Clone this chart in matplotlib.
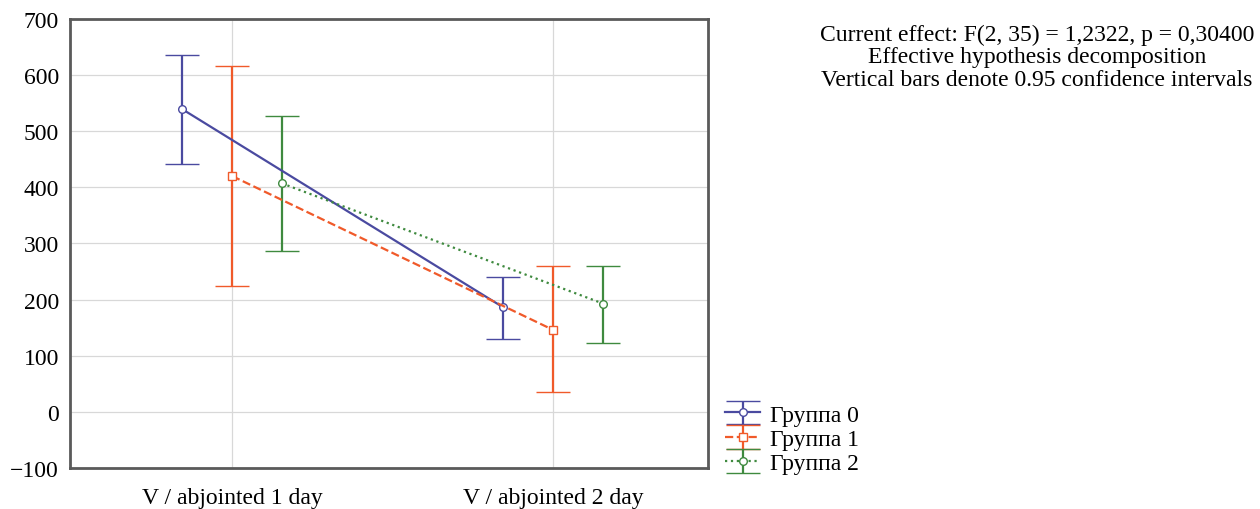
import numpy as np
import matplotlib.pyplot as plt

plt.rcParams['font.family'] = ['Liberation Serif', 'DejaVu Serif']
fontsize = 17

categories = ["V / abjointed 1 day", "V / abjointed 2 day"]
groups = ["Группа 0", "Группа 1", "Группа 2"]

means = [[539, 186],
         [420, 146],
         [407, 193]]
ci_low = [[441, 130],
          [225, 36],
          [286, 123]]
ci_high = [[636, 241],
           [616, 259],
           [527, 259]]

colors = ['#4a4aa0', '#f05a2a', '#3f8a3f']
linestyles = ['-', '--', ':']
markers = ['o', 's', 'o']
offsets = [-0.155, 0.0, 0.155]

fig = plt.figure(figsize=(12.6, 5.1), dpi=100)
ax = fig.add_axes([0.0556, 0.0804, 0.5064, 0.8806])

x = np.arange(len(categories))
for i in range(len(groups)):
    m = np.array(means[i])
    lo = m - np.array(ci_low[i])
    hi = np.array(ci_high[i]) - m
    ax.errorbar(x + offsets[i], m, yerr=[lo, hi], color=colors[i],
                linestyle=linestyles[i], linewidth=1.6, marker=markers[i],
                markersize=5.5, markerfacecolor='white', markeredgewidth=1.0,
                capsize=12, capthick=1.6, elinewidth=1.6, label=groups[i])

ax.set_xlim(-0.505, 1.483)
ax.set_ylim(-100, 700)
ax.set_xticks(x)
ax.set_xticklabels(categories, fontsize=fontsize)
ax.set_yticks(np.arange(-100, 701, 100))
ax.set_yticklabels(["\u2212100"] + [str(v) for v in range(0, 701, 100)],
                   fontsize=fontsize)
ax.tick_params(axis='y', length=0, pad=8)
ax.tick_params(axis='x', length=0, pad=14)
ax.grid(True, color='#d8d8d8', linewidth=0.9)
ax.set_axisbelow(True)
for s in ax.spines.values():
    s.set_color('#5a5a5a')
    s.set_linewidth(2.0)

ax.legend(loc='lower left', bbox_to_anchor=(725 / 1260, 0.068),
          bbox_transform=fig.transFigure, frameon=False,
          fontsize=fontsize, handlelength=1.5, handletextpad=0.42,
          labelspacing=0.12, borderaxespad=0, borderpad=0)

fig.text(0.823, 0.951,
         "Current effect: F(2, 35) = 1,2322, p = 0,30400\n"
         "Effective hypothesis decomposition\n"
         "Vertical bars denote 0.95 confidence intervals",
         ha='center', va='top', fontsize=fontsize, linespacing=1.08)

fig.savefig("out.png")
